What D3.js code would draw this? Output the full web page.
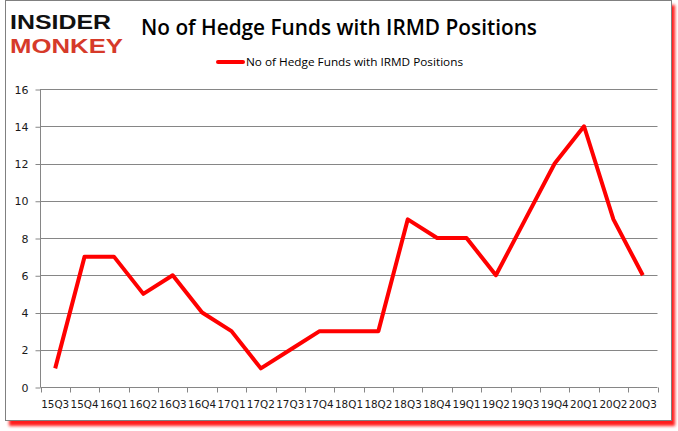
<!DOCTYPE html>
<html><head><meta charset="utf-8">
<script src="https://cdn.jsdelivr.net/npm/d3@7"></script>
<style>body{margin:0;background:#fff}svg{display:block}</style>
</head><body>
<script>
const categories = ["15Q3","15Q4","16Q1","16Q2","16Q3","16Q4","17Q1","17Q2","17Q3","17Q4","18Q1","18Q2","18Q3","18Q4","19Q1","19Q2","19Q3","19Q4","20Q1","20Q2","20Q3"];
const values = [1,7,7,5,6,4,3,1,2,3,3,3,9,8,8,6,9,12,14,9,6];
const yTicks = [0,2,4,6,8,10,12,14,16];
const seriesName = "No of Hedge Funds with IRMD Positions";
const title = "No of Hedge Funds with IRMD Positions";

const W = 678, H = 431;
const svg = d3.select("body").append("svg").attr("width", W).attr("height", H);

// frame with red shadow
const defs = svg.append("defs");
const f = defs.append("filter").attr("id","blur").attr("x","-5%").attr("y","-5%").attr("width","110%").attr("height","110%");
f.append("feGaussianBlur").attr("stdDeviation", 1.5);
svg.append("rect").attr("x",9).attr("y",5).attr("width",666).attr("height",421).attr("fill","#ff1a1a").attr("filter","url(#blur)");
svg.append("rect").attr("x",5.5).attr("y",0.5).attr("width",666).attr("height",420).attr("fill","#fff").attr("stroke","#808080");

const margin = {left:40.5, right:657.5, top:89, bottom:387};
const x = d3.scaleBand().domain(categories).range([margin.left, margin.right]);
const y = d3.scaleLinear().domain([0,16]).range([margin.bottom, margin.top]);

// gridlines
svg.append("g").selectAll("line").data(yTicks.filter(d=>d>0)).join("line")
  .attr("x1", margin.left).attr("x2", margin.right)
  .attr("y1", d=>Math.round(y(d))+0.5).attr("y2", d=>Math.round(y(d))+0.5)
  .attr("stroke","#868686").attr("stroke-width",1);

// y axis
const yAxis = svg.append("g").attr("transform",`translate(${margin.left},0.5)`)
  .call(d3.axisLeft(y).tickValues(yTicks).tickSize(5).tickPadding(7).tickFormat(d3.format("d")));
yAxis.select(".domain").attr("stroke","#868686").attr("d", `M0,${margin.top-0.5}V${margin.bottom}`);
yAxis.selectAll(".tick line").attr("stroke","#868686");
yAxis.selectAll(".tick text").attr("font-family","DejaVu Sans, Verdana, sans-serif").attr("font-size",11).attr("fill","#1a1a1a");

// x axis
const xAxis = svg.append("g").attr("transform",`translate(0,${margin.bottom+0.5})`)
  .call(d3.axisBottom(x).tickSize(0).tickPadding(13));
xAxis.select(".domain").attr("stroke","#868686").attr("d", `M${margin.left},0H${margin.right}`);
xAxis.selectAll(".tick text").attr("font-family","DejaVu Sans, Verdana, sans-serif").attr("font-size",10.4).attr("fill","#1a1a1a");
const bounds = categories.map(c=>x(c)).concat([x(categories[categories.length-1])+x.bandwidth()]);
xAxis.append("g").selectAll("line").data(bounds).join("line")
  .attr("x1",d=>Math.round(d)+0.5).attr("x2",d=>Math.round(d)+0.5).attr("y1",0).attr("y2",5)
  .attr("stroke","#868686");

// line
const line = d3.line().x((d,i)=>x(categories[i])+x.bandwidth()/2).y(d=>y(d));
svg.append("path").datum(values).attr("d", line).attr("fill","none")
  .attr("stroke","#ff0000").attr("stroke-width",4).attr("stroke-linejoin","round");

// title
svg.append("text").attr("x",141).attr("y",35).text(title)
  .attr("font-family","Open Sans, Liberation Sans, sans-serif").attr("font-size",21).attr("font-weight",600)
  .attr("textLength",396).attr("lengthAdjust","spacingAndGlyphs").attr("fill","#000");

// legend
svg.append("line").attr("x1",218).attr("x2",243).attr("y1",62).attr("y2",62).attr("stroke","#ff0000").attr("stroke-width",4).attr("stroke-linecap","round");
svg.append("text").attr("x",246).attr("y",66).text(seriesName)
  .attr("font-family","Open Sans, Liberation Sans, sans-serif").attr("font-size",11)
  .attr("textLength",217).attr("lengthAdjust","spacingAndGlyphs").attr("fill","#000");

// logo
svg.append("text").attr("x",10).attr("y",29).text("INSIDER")
  .attr("font-family","Liberation Sans, Arial, sans-serif").attr("font-weight","bold").attr("font-size",21)
  .attr("textLength",101).attr("lengthAdjust","spacingAndGlyphs").attr("fill","#111");
svg.append("text").attr("x",10).attr("y",52.5).text("MONKEY")
  .attr("font-family","Liberation Sans, Arial, sans-serif").attr("font-weight","bold").attr("font-size",21)
  .attr("textLength",113).attr("lengthAdjust","spacingAndGlyphs").attr("fill","#d63a2a");
</script>
</body></html>
